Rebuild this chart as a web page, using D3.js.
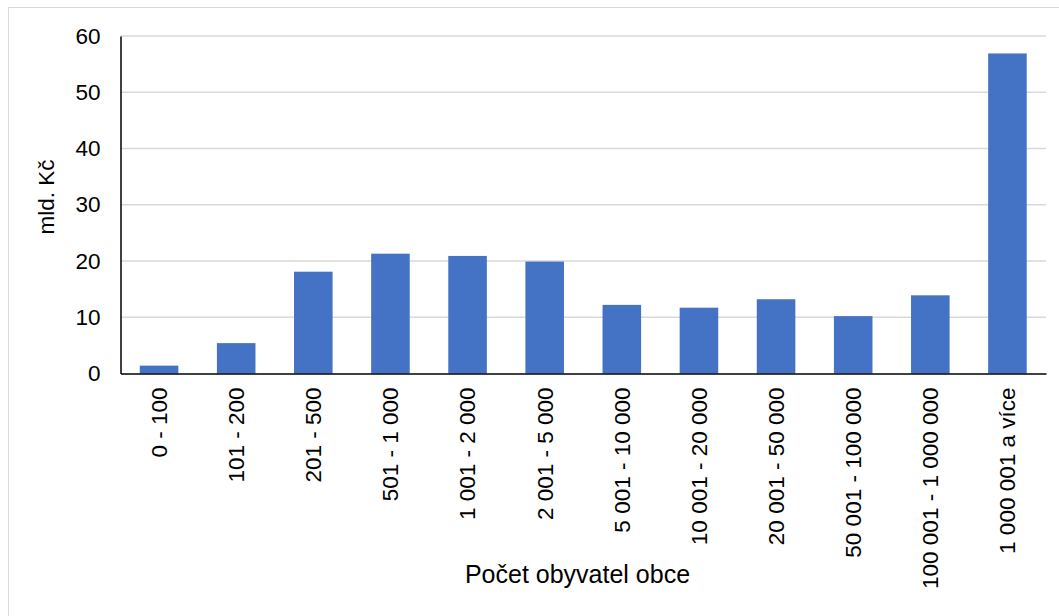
<!DOCTYPE html>
<html><head><meta charset="utf-8">
<script src="https://cdn.jsdelivr.net/npm/d3@7"></script>
<style>body{margin:0;background:#fff;} svg{display:block;font-family:"Liberation Sans",Arial,sans-serif;}</style>
</head><body>
<svg id="c" width="1059" height="616"></svg>
<script>
const categories = ["0 - 100","101 - 200","201 - 500","501 - 1 000","1 001 - 2 000","2 001 - 5 000","5 001 - 10 000","10 001 - 20 000","20 001 - 50 000","50 001 - 100 000","100 001 - 1 000 000","1 000 001 a více"];
const values = [1.4, 5.4, 18.1, 21.3, 20.9, 19.9, 12.2, 11.7, 13.2, 10.2, 13.9, 56.9];
const yTicks = [0, 10, 20, 30, 40, 50, 60];
const yTitle = "mld. Kč";
const xTitle = "Počet obyvatel obce";

const svg = d3.select("#c");
const m = {l:120.5, r:1046, t:36, b:373.5};
svg.append("rect").attr("x",8.5).attr("y",7.5).attr("width",1070).attr("height",640)
  .attr("fill","none").attr("stroke","#d9d9d9").attr("stroke-width",1);

const x = d3.scaleBand().domain(categories).range([m.l, m.r]).paddingInner(0.5).paddingOuter(0.25);
const y = d3.scaleLinear().domain([0,60]).range([m.b, m.t]);

// gridlines
svg.append("g").selectAll("line").data(yTicks.filter(d=>d>0)).join("line")
  .attr("x1",m.l).attr("x2",m.r).attr("y1",d=>y(d)).attr("y2",d=>y(d))
  .attr("stroke","#d9d9d9").attr("stroke-width",1.3);

// bars
svg.append("g").selectAll("rect").data(values).join("rect")
  .attr("x",(d,i)=>x(categories[i])).attr("width",x.bandwidth())
  .attr("y",d=>y(d)).attr("height",d=>y(0)-y(d)).attr("fill","#4472c4");

// y axis
const ya = svg.append("g").attr("transform",`translate(${m.l},0)`)
  .call(d3.axisLeft(y).tickValues(yTicks).tickSize(0).tickPadding(20).tickFormat(d3.format("d")));
ya.select(".domain").attr("stroke","#000").attr("stroke-width",1.5);
ya.selectAll("text").attr("font-size",22.5).attr("fill","#000").attr("font-family","Liberation Sans, Arial, sans-serif");

// x axis
const xa = svg.append("g").attr("transform",`translate(0,${m.b})`)
  .call(d3.axisBottom(x).tickSize(0).tickPadding(0));
xa.select(".domain").attr("stroke","#000").attr("stroke-width",1.5);
xa.selectAll("text").attr("font-size",22.5).attr("fill","#000").attr("font-family","Liberation Sans, Arial, sans-serif")
  .attr("text-anchor","end").attr("dy","0.35em")
  .attr("transform","translate(0,14) rotate(-90)").attr("y",0).attr("x",0);

svg.append("text").attr("transform","translate(54,197) rotate(-90)")
  .attr("text-anchor","middle").attr("font-size",22.5).attr("fill","#000").text(yTitle);
svg.append("text").attr("x",577.5).attr("y",583)
  .attr("text-anchor","middle").attr("font-size",25).attr("fill","#000").text(xTitle);
</script>
</body></html>
